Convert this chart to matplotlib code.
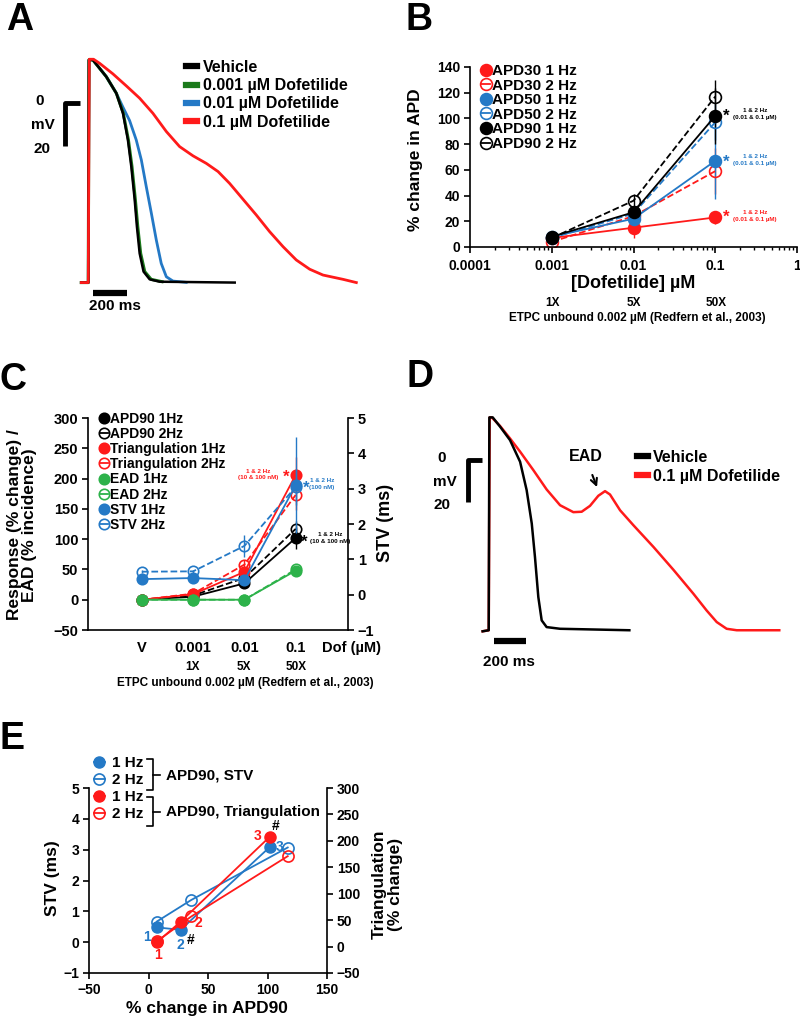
import numpy as np
import matplotlib.pyplot as plt
from matplotlib.lines import Line2D

plt.rcParams['font.family'] = ['Liberation Sans', 'DejaVu Sans']
plt.rcParams['font.weight'] = 'bold'
plt.rcParams['axes.labelweight'] = 'bold'
plt.rcParams['axes.linewidth'] = 1.2

RED = '#ff1a1a'
BLUE = '#2479c6'
GREEN = '#2db24a'
DKGREEN = '#1b7a1b'

# ---------------- data ----------------
# Panel A: action potential traces (time ms, voltage mV)
a_veh_t = [-45, -4, 0, 23, 102, 161, 200, 229, 249, 269, 282, 298, 321, 357, 416, 857]
a_veh_v = [-83.5, -83.5, 20, 20, 12.2, 4.5, -4.8, -17.2, -29.6, -45.1, -57.5, -69.9, -78.4, -82, -83.1, -83.5]
a_001_t = [-45, -4, 0, 23, 102, 161, 202, 232, 253, 273, 287, 304, 328, 366, 430]
a_001_v = [-83.5, -83.5, 20, 20, 12.2, 4.5, -4.8, -17.2, -29.6, -45.1, -57.5, -69.9, -78.4, -82, -83.1]
a_01_t = [-45, -4, 0, 23, 102, 161, 200, 239, 278, 308, 337, 367, 396, 425, 455, 494, 572]
a_01_v = [-83.5, -83.5, 20, 20, 12.2, 4.5, -2, -8.2, -17.2, -26.5, -38.9, -51.3, -63.7, -74.6, -80.8, -82.8, -83.4]
a_1_t = [-45, -4, 2, 27, 63, 141, 220, 298, 376, 455, 533, 612, 690, 759, 827, 906, 984,
         1062, 1141, 1219, 1298, 1376, 1494, 1572]
a_1_v = [-83.5, -83.5, 20.3, 20.3, 18.4, 13.5, 7.9, 2.2, -4.8, -13.3, -20.3, -24.6, -28.1, -31.9,
         -37.4, -44.8, -52.1, -59.8, -66.8, -73, -77.3, -80, -82, -83.5]

# Panel B: % change in APD vs dofetilide concentration
conc = [0.001, 0.01, 0.1]
apd30_1 = [7, 15, 23]
apd30_1_err = [2, 8, 5]
apd30_2 = [4, 24, 59]
apd30_2_err = [2, 5, 18]
apd50_1 = [8, 22, 67]
apd50_1_err = [2, 3, 30]
apd50_2 = [7, 26, 97]
apd50_2_err = [2, 4, 14]
apd90_1 = [8, 27, 102]
apd90_1_err = [2, 3, 22]
apd90_2 = [7, 36, 117]
apd90_2_err = [2, 5, 13]

# Panel C: responses by dose
doses = ['V', '0.001', '0.01', '0.1']
c_apd90_1 = [0, 5, 27, 102]
c_apd90_1_err = [0, 2, 3, 18]
c_apd90_2 = [0, 7, 36, 117]
c_apd90_2_err = [0, 2, 5, 13]
tri_1 = [0, 9, 46, 206]
tri_1_err = [0, 3, 6, 30]
tri_2 = [0, 10, 58, 173]
tri_2_err = [0, 3, 8, 25]
ead_1 = [0, 0, 0, 48]
ead_2 = [0, 0, 0, 50]
stv_1 = [0.44, 0.47, 0.41, 3.10]
stv_1_err = [0.05, 0.05, 0.05, 1.35]
stv_2 = [0.65, 0.66, 1.38, 3.05]
stv_2_err = [0.05, 0.05, 0.3, 0.5]

# Panel D: vehicle vs 0.1 uM dofetilide with EAD
d_veh_t = [-42, -4, 0, 21, 67, 129, 192, 233, 265, 285, 306, 327, 358, 442, 875]
d_veh_v = [-81.5, -81, 20.3, 20.3, 15.9, 9.5, -0.8, -14.3, -30.2, -46.1, -65.2, -76.3, -79.5, -80.3, -81]
d_dof_t = [-42, -4, 2, 15, 67, 129, 192, 275, 358, 442, 525, 577, 629, 681, 723, 754, 817, 900,
           1025, 1150, 1275, 1358, 1421, 1483, 1546, 1812]
d_dof_v = [-81.5, -81, 20.3, 20.3, 16.2, 10.3, 4, -4.8, -14, -21.5, -24.8, -24.6, -21.8, -17, -14.8,
           -16.4, -23.9, -31, -41.3, -52.2, -63.6, -71.6, -77.1, -80.3, -81, -81]

# Panel E: STV / triangulation vs APD90
e_apd90_1 = [7, 27, 102]
e_apd90_2 = [7, 36, 117]
e_stv_1 = [0.48, 0.40, 3.09]
e_stv_2 = [0.67, 1.37, 3.07]
e_tri_1 = [8, 47, 208]
e_tri_2 = [10, 57, 171]

# ---------------- figure helpers ----------------
W, H = 800, 1019
fig = plt.figure(figsize=(W / 100, H / 100), dpi=100)


def box(x0, y0, x1, y1):
    return [x0 / W, 1 - y1 / H, (x1 - x0) / W, (y1 - y0) / H]


def ptext(x, y, s, **kw):
    kw.setdefault('ha', 'center')
    kw.setdefault('va', 'center')
    fig.text(x / W, 1 - y / H, s, **kw)


def pline(xs, ys, **kw):
    fig.add_artist(Line2D([x / W for x in xs], [1 - y / H for y in ys], **kw))


def style_ticks(ax, size=10):
    ax.tick_params(direction='out', length=4, width=1.2, labelsize=size, pad=3)


# panel letters
for lab, x, y in [('A', 20, 20), ('B', 419, 20), ('C', 13, 380), ('D', 420, 377), ('E', 12, 739)]:
    ptext(x, y, lab, fontsize=27)

# ---------------- Panel A ----------------
axA = fig.add_axes(box(75, 50, 365, 300))
axA.axis('off')
axA.set_xlim(-82, 1623)
axA.set_ylim(-91.6, 24.6)
axA.plot(a_01_t, a_01_v, color=BLUE, lw=2, label='0.01 µM Dofetilide')
axA.plot(a_001_t, a_001_v, color=DKGREEN, lw=2.2, label='0.001 µM Dofetilide')
axA.plot(a_veh_t, a_veh_v, color='black', lw=1.8, label='Vehicle')
axA.plot(a_1_t, a_1_v, color=RED, lw=2, label='0.1 µM Dofetilide')
# scale bars
axA.plot([-141, -141, -53], [-20, 0, 0], color='black', lw=3.5, clip_on=False, solid_capstyle='butt')
axA.plot([23, 223], [-88.4, -88.4], color='black', lw=4.5, clip_on=False, solid_capstyle='butt')
ptext(40, 101, '0', fontsize=11)
ptext(43, 125, 'mV', fontsize=11)
ptext(42, 149, '20', fontsize=11)
ptext(115, 306, '200 ms', fontsize=11)
hA, lA = axA.get_legend_handles_labels()
order = [2, 1, 0, 3]
axA.legend([Line2D([], [], color=hA[i].get_color(), lw=4.5) for i in order], [lA[i] for i in order],
           loc='upper left', bbox_to_anchor=(186 / W, 1 - 60 / H), bbox_transform=fig.transFigure,
           frameon=False, fontsize=11.5, handlelength=0.7, handletextpad=0.35, labelspacing=0.2,
           borderpad=0, borderaxespad=0)

# ---------------- Panel B ----------------
axB = fig.add_axes(box(470, 67, 797, 247))
axB.set_xscale('log')
axB.set_xlim(1e-4, 1)
axB.set_ylim(0, 140)
axB.set_yticks(range(0, 141, 20))
axB.set_xticks([1e-4, 1e-3, 1e-2, 1e-1, 1])
axB.set_xticklabels(['0.0001', '0.001', '0.01', '0.1', '1'])
axB.xaxis.set_minor_formatter(plt.NullFormatter())
axB.spines['top'].set_visible(False)
axB.spines['right'].set_visible(False)
style_ticks(axB, 10)
axB.tick_params(which='minor', direction='out', length=2.5, width=1)
axB.tick_params(axis='x', pad=5)

b_series = [
    ('APD30 1 Hz', apd30_1, apd30_1_err, RED, True, '-'),
    ('APD30 2 Hz', apd30_2, apd30_2_err, RED, False, '--'),
    ('APD50 1 Hz', apd50_1, apd50_1_err, BLUE, True, '-'),
    ('APD50 2 Hz', apd50_2, apd50_2_err, BLUE, False, '--'),
    ('APD90 1 Hz', apd90_1, apd90_1_err, 'black', True, '-'),
    ('APD90 2 Hz', apd90_2, apd90_2_err, 'black', False, '--'),
]
b_handles = []
for lab, y, err, c, filled, ls in b_series:
    axB.errorbar(conc, y, yerr=err, color=c, ls=ls, lw=1.3, marker='o', ms=8.5,
                 mfc=c if filled else 'none', mec=c, mew=1.2, elinewidth=1, capsize=0)
    b_handles.append(Line2D([], [], color=c, lw=1.3, marker='o', ms=8.5,
                            mfc=c if filled else 'none', mec=c, mew=1.2))
axB.legend(b_handles, [s[0] for s in b_series], loc='upper left',
           bbox_to_anchor=(481 / W, 1 - 64 / H), bbox_transform=fig.transFigure,
           frameon=False, fontsize=11, handlelength=0.6, handletextpad=0.15, labelspacing=0.04,
           borderpad=0, borderaxespad=0)
ptext(415, 160, '% change in APD', fontsize=12.5, rotation=90)
ptext(633, 284, '[Dofetilide] µM', fontsize=13)
for s, x in [('1X', 553), ('5X', 634), ('50X', 716)]:
    ptext(x, 303, s, fontsize=8.5)
ptext(637, 318, 'ETPC unbound 0.002 µM (Redfern et al., 2003)', fontsize=8.5)
for c, y in [('black', 115), (BLUE, 161), (RED, 216)]:
    ptext(726, y + 1, '*', fontsize=12, color=c)
    ptext(755, y - 4, '1 & 2 Hz', fontsize=4.5, color=c)
    ptext(755, y + 3, '(0.01 & 0.1 µM)', fontsize=4.5, color=c)

# ---------------- Panel C ----------------
axC = fig.add_axes(box(88, 418, 348, 630))
axC2 = axC.twinx()
xpos = np.arange(len(doses))
axC.set_xlim(-1.05, 4.02)
axC.set_ylim(-50, 300)
axC.set_yticks(range(-50, 301, 50))
axC2.set_ylim(-1, 5)
axC2.set_yticks(range(-1, 6))
axC.set_xticks(xpos)
axC.set_xticklabels(doses)
axC.spines['top'].set_visible(False)
axC.spines['right'].set_visible(False)
axC2.spines['top'].set_visible(False)
axC2.spines['left'].set_visible(False)
axC2.spines['bottom'].set_visible(False)
style_ticks(axC, 10.5)
style_ticks(axC2, 10.5)
axC.tick_params(axis='x', length=0, pad=8)

c_series = [
    (axC, 'APD90 1Hz', c_apd90_1, c_apd90_1_err, 'black', True, '-'),
    (axC, 'APD90 2Hz', c_apd90_2, c_apd90_2_err, 'black', False, '--'),
    (axC, 'Triangulation 1Hz', tri_1, tri_1_err, RED, True, '-'),
    (axC, 'Triangulation 2Hz', tri_2, tri_2_err, RED, False, '--'),
    (axC, 'EAD 1Hz', ead_1, None, GREEN, True, '-'),
    (axC, 'EAD 2Hz', ead_2, None, GREEN, False, '--'),
    (axC2, 'STV 1Hz', stv_1, stv_1_err, BLUE, True, '-'),
    (axC2, 'STV 2Hz', stv_2, stv_2_err, BLUE, False, '--'),
]
c_handles = []
for ax, lab, y, err, c, filled, ls in c_series:
    ax.errorbar(xpos, y, yerr=err, color=c, ls=ls, lw=1.3, marker='o', ms=7.5,
                mfc=c if filled else 'none', mec=c, mew=1.2, elinewidth=1, capsize=0)
    c_handles.append(Line2D([], [], color=c, lw=1.3, marker='o', ms=7.5,
                            mfc=c if filled else 'none', mec=c, mew=1.2))
axC2.legend(c_handles, [s[1] for s in c_series], loc='upper left',
            bbox_to_anchor=(100 / W, 1 - 412 / H), bbox_transform=fig.transFigure,
            frameon=False, fontsize=10, handlelength=0.6, handletextpad=0.15, labelspacing=0.08,
            borderpad=0, borderaxespad=0)
ptext(22, 525, 'Response (% change) /\nEAD (% incidence)', fontsize=12.5, rotation=90, linespacing=1.0)
ptext(386, 523, 'STV (ms)', fontsize=13, rotation=90)
ptext(351, 648, 'Dof (µM)', fontsize=10.5)
for s, x in [('1X', 193), ('5X', 244), ('50X', 296)]:
    ptext(x, 667, s, fontsize=8.5)
ptext(245, 683, 'ETPC unbound 0.002 µM (Redfern et al., 2003)', fontsize=8.5)
ptext(286, 477, '*', fontsize=12, color=RED)
ptext(258, 471, '1 & 2 Hz', fontsize=4.5, color=RED)
ptext(258, 478, '(10 & 100 nM)', fontsize=4.5, color=RED)
ptext(306, 488, '*', fontsize=12, color=BLUE)
ptext(322, 481, '1 & 2 Hz', fontsize=4.5, color=BLUE)
ptext(322, 488, '(100 nM)', fontsize=4.5, color=BLUE)
ptext(304, 542, '*', fontsize=12, color='black')
ptext(330, 535, '1 & 2 Hz', fontsize=4.5, color='black')
ptext(330, 542, '(10 & 100 nM)', fontsize=4.5, color='black')

# ---------------- Panel D ----------------
axD = fig.add_axes(box(470, 405, 790, 650))
axD.axis('off')
axD.set_xlim(-121, 1879)
axD.set_ylim(-90.4, 26.2)
axD.plot(d_dof_t, d_dof_v, color=RED, lw=1.8)
axD.plot(d_veh_t, d_veh_v, color='black', lw=1.8)
axD.plot([-133, -133, -46], [-20, 0, 0], color='black', lw=3.5, clip_on=False, solid_capstyle='butt')
axD.plot([29, 229], [-86.2, -86.2], color='black', lw=4.5, clip_on=False, solid_capstyle='butt')
axD.annotate('EAD', xy=(676, -13.5), xytext=(600, 1.5), ha='center', va='center', fontsize=11.5,
             arrowprops=dict(arrowstyle='->', lw=1.5, color='black', shrinkA=6, shrinkB=1))
ptext(442, 458, '0', fontsize=11)
ptext(445, 482, 'mV', fontsize=11)
ptext(442, 505, '20', fontsize=11)
ptext(509, 662, '200 ms', fontsize=11)
axD.legend([Line2D([], [], color='black', lw=4.5), Line2D([], [], color=RED, lw=4.5)],
           ['Vehicle', '0.1 µM Dofetilide'], loc='upper left',
           bbox_to_anchor=(637 / W, 1 - 450 / H), bbox_transform=fig.transFigure,
           frameon=False, fontsize=11.5, handlelength=0.7, handletextpad=0.3, labelspacing=0.25,
           borderpad=0, borderaxespad=0)

# ---------------- Panel E ----------------
axE = fig.add_axes(box(89, 788, 327, 973))
axE2 = axE.twinx()
axE.set_xlim(-50, 150)
axE.set_ylim(-1, 5)
axE.set_xticks(range(-50, 151, 50))
axE.set_yticks(range(-1, 6))
axE2.set_ylim(-50, 300)
axE2.set_yticks(range(-50, 301, 50))
axE.spines['top'].set_visible(False)
axE.spines['right'].set_visible(False)
axE2.spines['top'].set_visible(False)
axE2.spines['left'].set_visible(False)
axE2.spines['bottom'].set_visible(False)
style_ticks(axE, 10)
style_ticks(axE2, 10)

axE.plot(e_apd90_1, e_stv_1, color=BLUE, lw=1.3, marker='o', ms=8, mfc=BLUE, mec=BLUE)
axE.plot(e_apd90_2, e_stv_2, color=BLUE, lw=1.3, marker='o', ms=8, mfc='none', mec=BLUE, mew=1.2)
axE2.plot(e_apd90_1, e_tri_1, color=RED, lw=1.3, marker='o', ms=8, mfc=RED, mec=RED)
axE2.plot(e_apd90_2, e_tri_2, color=RED, lw=1.3, marker='o', ms=8, mfc='none', mec=RED, mew=1.2)

for s, x, y, c in [('1', -1.5, 0.16, BLUE), ('2', 26.5, -0.08, BLUE), ('3', 110, 3.08, BLUE),
                   ('1', 7.7, -0.42, RED), ('2', 41.5, 0.62, RED), ('3', 91.8, 3.44, RED),
                   ('#', 35.5, 0.06, 'black'), ('#', 107, 3.78, 'black')]:
    axE.text(x, y, s, color=c, fontsize=10, ha='center', va='center')

e_handles = [
    Line2D([], [], color=BLUE, lw=1.3, marker='o', ms=8, mfc=BLUE, mec=BLUE),
    Line2D([], [], color=BLUE, lw=1.3, marker='o', ms=8, mfc='none', mec=BLUE, mew=1.2),
    Line2D([], [], color=RED, lw=1.3, marker='o', ms=8, mfc=RED, mec=RED),
    Line2D([], [], color=RED, lw=1.3, marker='o', ms=8, mfc='none', mec=RED, mew=1.2),
]
axE2.legend(e_handles, ['1 Hz', '2 Hz', '1 Hz', '2 Hz'], loc='upper left',
            bbox_to_anchor=(94 / W, 1 - 756 / H), bbox_transform=fig.transFigure,
            frameon=False, fontsize=11, handlelength=0.7, handletextpad=0.5, labelspacing=0.2,
            borderpad=0, borderaxespad=0)
for y0, y1 in [(759, 790), (797, 826)]:
    pline([147, 153, 153, 147], [y0, y0, y1, y1], color='black', lw=1.2)
    pline([153, 160], [(y0 + y1) / 2] * 2, color='black', lw=1.2)
ptext(166, 775, 'APD90, STV', fontsize=11, ha='left')
ptext(166, 812, 'APD90, Triangulation', fontsize=11, ha='left')
ptext(52, 878, 'STV (ms)', fontsize=12.5, rotation=90)
ptext(387, 884, 'Triangulation\n(% change)', fontsize=12.5, rotation=90, linespacing=1.1)
ptext(207, 1008, '% change in APD90', fontsize=12.5)

fig.savefig('out.png', dpi=100)
